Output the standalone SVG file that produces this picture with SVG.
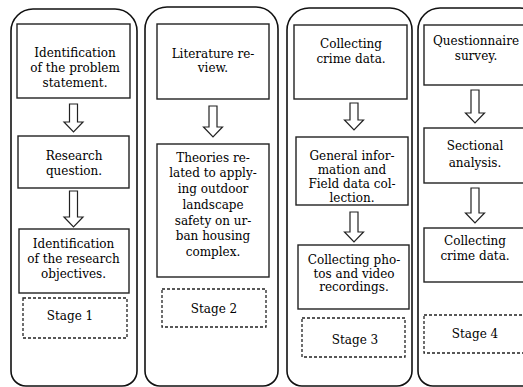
<svg xmlns="http://www.w3.org/2000/svg" width="523" height="387" viewBox="0 0 523 387">
<style>
.cont{fill:none;stroke:#111;stroke-width:1.6}
.box{fill:#fff;stroke:#222;stroke-width:1.4}
.dash{fill:#fff;stroke:#222;stroke-width:1.3;stroke-dasharray:3,2}
.arr{fill:#fff;stroke:#222;stroke-width:1.2;stroke-linejoin:miter}
text{font-family:"DejaVu Serif","Liberation Serif",serif;font-size:12px;fill:#000;text-anchor:middle}
</style>
<rect width="523" height="387" fill="#fff"/>
<g id="stage1">
<path class="cont" d="M11,31 A22,22 0 0 1 33,9 L115,9 A22,22 0 0 1 137,31 L137,371 A15,15 0 0 1 122,386 L26,386 A15,15 0 0 1 11,371 Z"/>
</g>
<g id="stage2">
<path class="cont" d="M145,29 A22,22 0 0 1 167,7 L256,7 A22,22 0 0 1 278,29 L278,371 A15,15 0 0 1 263,386 L160,386 A15,15 0 0 1 145,371 Z"/>
</g>
<g id="stage3">
<path class="cont" d="M287,30 A22,22 0 0 1 309,8 L390,8 A22,22 0 0 1 412,30 L412,371 A15,15 0 0 1 397,386 L302,386 A15,15 0 0 1 287,371 Z"/>
</g>
<g id="stage4">
<path class="cont" d="M418,30 A22,22 0 0 1 440,8 L520,8 A22,22 0 0 1 542,30 L542,371 A15,15 0 0 1 527,386 L433,386 A15,15 0 0 1 418,371 Z"/>
</g>
<g id="connectors">
<polygon class="arr" points="69.5,104 77.5,104 77.5,122 83,122 73.5,132 64,122 69.5,122"/>
<polygon class="arr" points="69.5,191 77.5,191 77.5,217 83,217 73.5,227 64,217 69.5,217"/>
<polygon class="arr" points="209,106 217,106 217,127 222.5,127 213,137 203.5,127 209,127"/>
<polygon class="arr" points="350,103 358,103 358,120 363.5,120 354,130 344.5,120 350,120"/>
<polygon class="arr" points="350,212 358,212 358,232 363.5,232 354,242 344.5,232 350,232"/>
<polygon class="arr" points="471,90 479,90 479,113 484.5,113 475,123 465.5,113 471,113"/>
<polygon class="arr" points="471,188 479,188 479,213 484.5,213 475,223 465.5,213 471,213"/>
</g>
<g id="n1a"><rect class="box" x="17" y="24" width="113" height="74"/>
<text x="75" y="57">Identification</text><text x="75" y="72">of the problem</text><text x="75" y="87">statement.</text></g>
<g id="n1b"><rect class="box" x="18" y="136" width="111" height="52"/>
<text x="74" y="159.5">Research</text><text x="74" y="175">question.</text></g>
<g id="n1c"><rect class="box" x="19" y="229" width="110" height="64"/>
<text x="73.5" y="247.5">Identification</text><text x="73.5" y="262.5">of the research</text><text x="73.5" y="277.5">objectives.</text></g>
<g id="n1d"><rect class="dash" x="23" y="298" width="104" height="40"/>
<text x="70" y="319.5">Stage 1</text></g>
<g id="n2a"><rect class="box" x="157" y="24" width="112" height="75"/>
<text x="213" y="57.5">Literature re-</text><text x="213" y="72">view.</text></g>
<g id="n2b"><rect class="box" x="157" y="144" width="112" height="133"/>
<text x="213" y="161.5">Theories re-</text><text x="213" y="177">lated to apply-</text><text x="213" y="192.5">ing outdoor</text><text x="213" y="208.5">landscape</text><text x="213" y="224.5">safety on ur-</text><text x="213" y="240">ban housing</text><text x="213" y="255.5">complex.</text></g>
<g id="n2c"><rect class="dash" x="162" y="289" width="104" height="38"/>
<text x="214" y="312.5">Stage 2</text></g>
<g id="n3a"><rect class="box" x="294" y="25" width="113" height="74"/>
<text x="351" y="48">Collecting</text><text x="351" y="63">crime data.</text></g>
<g id="n3b"><rect class="box" x="296" y="137" width="112" height="68"/>
<text x="352" y="159.5">General infor-</text><text x="352" y="173.5">mation and</text><text x="352" y="187.5">Field data col-</text><text x="352" y="202">lection.</text></g>
<g id="n3c"><rect class="box" x="298" y="245" width="111" height="64"/>
<text x="354" y="264">Collecting pho-</text><text x="354" y="277.5">tos and video</text><text x="354" y="291">recordings.</text></g>
<g id="n3d"><rect class="dash" x="302" y="318" width="103" height="39"/>
<text x="355" y="344">Stage 3</text></g>
<g id="n4a"><rect class="box" x="424" y="25" width="104" height="60"/>
<text x="476" y="44.5">Questionnaire</text><text x="476" y="59.5">survey.</text></g>
<g id="n4b"><rect class="box" x="424" y="128" width="104" height="55"/>
<text x="475" y="150">Sectional</text><text x="475" y="167">analysis.</text></g>
<g id="n4c"><rect class="box" x="424" y="228" width="104" height="54"/>
<text x="475" y="244.5">Collecting</text><text x="475" y="259.5">crime data.</text></g>
<g id="n4d"><rect class="dash" x="424" y="315" width="104" height="38"/>
<text x="475" y="337.5">Stage 4</text></g>
</svg>
